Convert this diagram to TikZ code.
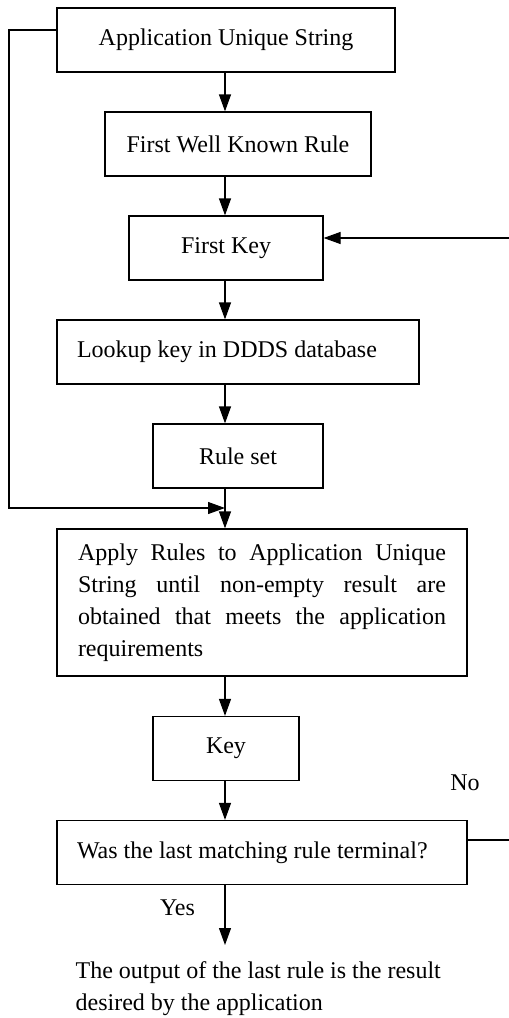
\documentclass[tikz,border=0pt]{standalone}
\usepackage{fontspec}
\setmainfont{Liberation Serif}
\usetikzlibrary{arrows.meta,positioning}
\tikzset{
	box/.style={draw,rectangle,align=center,minimum height=32pt,line width=0.6pt},
	leftbox/.style={box,align=flush left,inner xsep=10pt},
	label/.style={inner sep=0pt},
	>={Triangle[length=8.5pt,width=6pt]},
	every path/.style={line width=0.6pt}
}
\begin{document}
\begin{tikzpicture}[x=0.5pt,y=-0.5pt,font=\fontsize{12}{16}\selectfont]
			\useasboundingbox (0,0) rectangle (509,1018);

			\node[box,minimum width=169pt] (AUS) at (226, 40) {Application Unique String};

			\node[box,minimum width=133pt] (FWKR) at (238, 144) {First Well Known Rule};

			\node[box,minimum width=97pt] (FK) at (226, 248) {First Key};

			\node[leftbox,text width=161pt] (LK) at (238, 352) {Lookup key in DDDS database};

			\node[box,minimum width=85pt] (RS) at (238, 456) {Rule set};

			\node[box,align=justify,text width=184pt,inner xsep=10.5pt,minimum height=73.5pt] (AR) at (262, 602.5) {Apply Rules to Application Unique\linebreak String until non-empty result are\linebreak obtained that meets the application\linebreak requirements};

			\node[box,minimum width=73pt] (K) at (226, 748.5) {Key};

			\node[leftbox,text width=185pt] (W) at (262, 852.5) {Was the last matching rule terminal?};

			\node[label] (No) at (465, 783) {No};
			\node[label] (Yes) at (177.5, 908) {Yes};

			\node[label,anchor=west,align=left] (Out) at (75, 989) {The output of the last rule is the result\\desired by the application};

			\coordinate (S) at (225, 0);
			\coordinate (L1) at (9, 30);
			\coordinate (L2) at (9, 508);
			\coordinate (M) at (225, 508);
			\coordinate (R1) at (509, 840);
			\coordinate (R2) at (509, 238);
			\coordinate (E) at (225, 945);

			\draw[->] (AUS.south -| S) -- (FWKR.north -| S);
			\draw[->] (FWKR.south -| S) -- (FK.north -| S);
			\draw[->] (FK.south -| S) -- (LK.north -| S);
			\draw[->] (LK.south -| S) -- (RS.north -| S);
			\draw[->] (RS.south -| S) -- (AR.north -| S);
			\draw[->] (AR.south -| S) -- (K.north -| S);
			\draw[->] (K.south -| S) -- (W.north -| S);
			\draw[->] (W.south -| S) -- (E);
			\draw[->] (AUS.west |- L1) -- (L1) -- (L2) -- (M);
			\draw (W.east |- R1) -- (R1);
			\draw[->] (R2) -- (FK.east |- R2);
		\end{tikzpicture}
\end{document}
